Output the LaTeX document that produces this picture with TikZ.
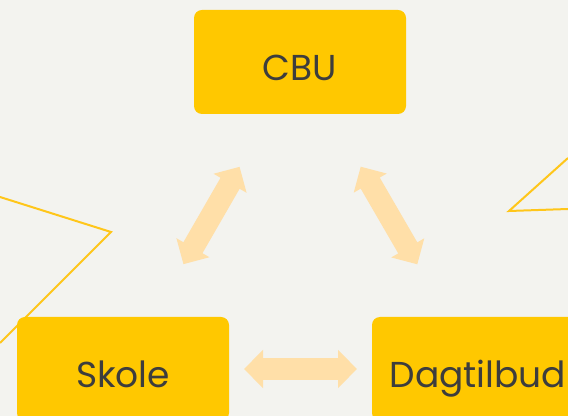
\documentclass[tikz,border=0pt]{standalone}
\usepackage{fontspec}
\setmainfont{Poppins}
\usetikzlibrary{arrows.meta}

\definecolor{baggrund}{HTML}{F3F3EF}
\definecolor{gul}{HTML}{FFC800}
\definecolor{linje}{HTML}{FFC61A}
\definecolor{fersken}{HTML}{FFDFA8}
\definecolor{tekst}{HTML}{3D3D3D}

\tikzset{
  boks/.style={fill=gul, draw=none, rounded corners=6pt, minimum width=159pt,
    minimum height=78pt, inner sep=0pt, text=tekst,
    font=\fontsize{27}{27}\selectfont, text height=27.75pt, text depth=0pt},
  pil/.style={draw=fersken, line width=16.5pt,
    {Triangle[width=27.75pt,length=14.25pt]}-{Triangle[width=27.75pt,length=14.25pt]},
    shorten <=90.75pt, shorten >=90.75pt},
  kant/.style={draw=linje, line width=1.5pt}
}

\begin{document}
\begin{tikzpicture}[x=0.75pt, y=-0.75pt]
    \fill[baggrund] (0, 0) rectangle (568, 416);
    \useasboundingbox (0, 0) rectangle (568, 416);

    % streger i kanten
    \draw[kant] (0, 197) -- (111, 232) -- (0, 343);
    \draw[kant] (568, 158) -- (509, 211) -- (568, 209);

    % kasser
    \node[boks] (cbu) at (300, 62) {CBU};
    \node[boks] (skole) at (123, 369) {Skole};
    \node[boks] (dagtilbud) at (478, 369) {Dagtilbud};

    % pile
    \draw[pil] (skole.center) -- (cbu.center);
    \draw[pil] (cbu.center) -- (dagtilbud.center);
    \draw[pil] (skole.center) -- (dagtilbud.center);

  \end{tikzpicture}
\end{document}
